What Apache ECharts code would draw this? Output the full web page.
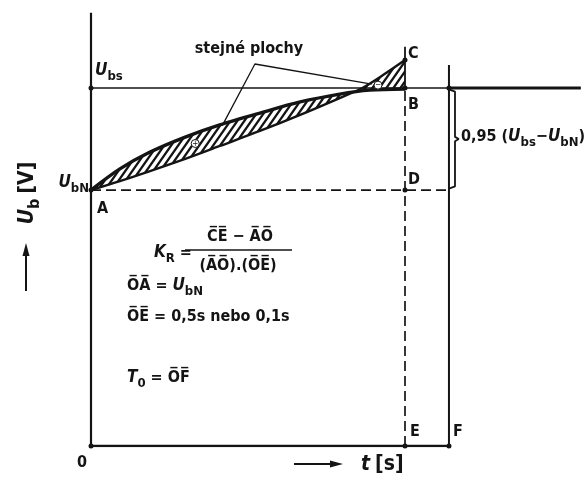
<!DOCTYPE html>
<html><head><meta charset="utf-8">
<script src="https://cdn.jsdelivr.net/npm/echarts@6/dist/echarts.min.js"></script>
<style>html,body{margin:0;background:#fff}#c{width:587px;height:479px}</style>
</head><body><div id="c"></div>
<script>
// Time axis in seconds, voltage relative to the steady value U_bs
const T_E = 0.5;        // OE
const T_F = 0.57;       // OF = T_0
const T_END = 0.78;     // end of the U_bs asymptote
const T_BRACKET = 0.5796;
const U_BS = 1.0;
const U_BN = 0.715;
const U_C = 1.078;
const U_TOP = 1.21;
const U_C_TICK = 1.115;
const U_F_TOP = 1.064;

// measured response U_b(t)
const responseT = [0, 0.046, 0.094, 0.150, 0.205, 0.269, 0.333, 0.396, 0.444, 0.5];
const responseU = [0.715, 0.774, 0.821, 0.863, 0.897, 0.930, 0.961, 0.983, 0.994, 0.997];
// equal-area curve from A to C
const chordT = [0, 0.046, 0.094, 0.150, 0.205, 0.269, 0.333, 0.396, 0.432, 0.465, 0.5];
const chordU = [0.715, 0.740, 0.768, 0.802, 0.838, 0.880, 0.925, 0.972, 1.0, 1.036, 1.078];

// leader lines of "stejné plochy"
const leaderFrom = [0.261, 1.067];
const leaderTo = [[0.209, 0.895], [0.447, 1.011]];
// area signs
const signT = [0.166, 0.457];
const signU = [0.845, 1.008];
const signText = ['+', '\u2212'];

// named points
const pointNames = ['0', 'A', 'B', 'C', 'D', 'E', 'F', '', ''];
const pointT = [0, 0, T_E, T_E, T_E, T_E, T_F, 0, T_F];
const pointU = [0, U_BN, U_BS, U_C, U_BN, 0, 0, U_BS, U_BS];

const INK = '#141414';
const FONT = '"DejaVu Sans Condensed","Liberation Sans Narrow","DejaVu Sans",sans-serif';
const OL = s => s.split('').map(ch => ch + '\u0305').join('');

const labelOffsets = [[-16.5, 17], [3.5, 19], [0.5, 17], [0.5, -6], [0.5, -10], [2.5, -14], [1.5, -14], [0, 0], [0, 0]];

const hatch = (() => {
  const c = document.createElement('canvas');
  c.width = 7; c.height = 10;
  const g = c.getContext('2d');
  g.strokeStyle = INK; g.lineWidth = 2.3; g.lineCap = 'square';
  g.beginPath();
  g.moveTo(0, 10); g.lineTo(7, 0);
  g.moveTo(-1, 1.4); g.lineTo(1, -1.4);
  g.moveTo(6, 11.4); g.lineTo(8, 8.6);
  g.stroke();
  return { image: c, repeat: 'repeat' };
})();

function seg(data, width, dashed) {
  return {
    type: 'line', data, symbol: 'none', silent: true, animation: false,
    lineStyle: { color: INK, width, type: dashed ? [10, 5] : 'solid', cap: 'butt' },
    z: 3
  };
}

const rich = {
  v: { fontFamily: FONT, fontStyle: 'italic', fontWeight: 'bold', fontSize: 17, color: INK },
  n: { fontFamily: FONT, fontWeight: 'bold', fontSize: 16, color: INK },
  s: { fontFamily: FONT, fontWeight: 'bold', fontSize: 13, color: INK, padding: [12, 0, 0, 0] },
  m: { fontFamily: FONT, fontWeight: 'bold', fontSize: 16, color: INK },
  p: { fontFamily: FONT, fontWeight: 'bold', fontSize: 16, color: INK },
  V: { fontFamily: FONT, fontStyle: 'italic', fontWeight: 'bold', fontSize: 21, color: INK },
  S: { fontFamily: FONT, fontWeight: 'bold', fontSize: 16, color: INK, padding: [13, 0, 0, 0] },
  N: { fontFamily: FONT, fontWeight: 'bold', fontSize: 21, color: INK }
};

function text(x, y, t, opts) {
  return Object.assign({
    type: 'text', x, y, silent: true,
    style: Object.assign({ text: t, rich, font: 'bold 16px ' + FONT, fill: INK, align: 'left', verticalAlign: 'middle' }, (opts && opts.style) || {})
  }, opts && opts.el || {});
}

const chart = echarts.init(document.getElementById('c'), null, { renderer: 'canvas' });

const series = [
  {
    type: 'custom', silent: true, animation: false, z: 2,
    renderItem: (params, api) => {
      const pts = responseT.map((t, i) => api.coord([t, responseU[i]]));
      for (let i = chordT.length - 1; i >= 0; i--) pts.push(api.coord([chordT[i], chordU[i]]));
      return { type: 'polygon', shape: { points: pts }, style: { fill: hatch, stroke: null } };
    },
    data: [[0, 0]]
  },
  Object.assign(seg(responseT.map((t, i) => [t, responseU[i]]), 3.4), { smooth: 0.3 }),
  Object.assign(seg(chordT.map((t, i) => [t, chordU[i]]), 2.4), { smooth: 0.3 }),
  // axes
  seg([[0, 0], [0, U_TOP]], 2.2),
  seg([[0, 0], [T_F, 0]], 2.6),
  // steady value
  seg([[0, U_BS], [T_F, U_BS]], 1.5),
  seg([[T_F, U_BS], [T_END, U_BS]], 3),
  // construction lines
  seg([[0, U_BN], [T_F, U_BN]], 1.7, true),
  seg([[T_E, 0], [T_E, U_BS]], 1.7, true),
  seg([[T_E, U_BS], [T_E, U_C_TICK]], 1.8),
  seg([[T_F, 0], [T_F, U_F_TOP]], 2),
  // bracket 0,95 (U_bs - U_bN)
  seg([[T_F, U_BS - 0.004], [T_BRACKET, U_BS - 0.01], [T_BRACKET, (U_BS + U_BN) / 2 + 0.006],
       [T_BRACKET + 0.006, (U_BS + U_BN) / 2], [T_BRACKET, (U_BS + U_BN) / 2 - 0.006],
       [T_BRACKET, U_BN + 0.01], [T_F, U_BN + 0.004]], 1.8),
  // leaders
  seg([leaderTo[0], leaderFrom, leaderTo[1]], 1.3),
  {
    type: 'scatter', silent: true, animation: false, z: 5,
    symbol: 'circle', symbolSize: 5,
    itemStyle: { color: INK, opacity: 1 },
    data: pointT.map((t, i) => ({
      value: [t, pointU[i]],
      label: {
        show: pointNames[i] !== '', formatter: '{p|' + pointNames[i] + '}', position: 'right', distance: 0,
        offset: labelOffsets[i], rich, color: INK, textBorderWidth: 0
      }
    }))
  },
  {
    type: 'scatter', silent: true, animation: false, z: 6,
    symbol: 'circle', symbolSize: 8,
    itemStyle: { color: '#fff', borderColor: INK, borderWidth: 1, opacity: 1 },
    data: signT.map((t, i) => ({
      value: [t, signU[i]],
      label: { show: true, formatter: signText[i], position: 'inside', color: INK, fontSize: 8, fontFamily: FONT, textBorderWidth: 0 }
    }))
  }
];

chart.setOption({
  backgroundColor: '#fff',
  animation: false,
  grid: { left: 91, right: 587 - 91 - T_END * 628, top: 446 - U_TOP * 358, bottom: 33, containLabel: false },
  xAxis: { type: 'value', min: 0, max: T_END, show: false },
  yAxis: { type: 'value', min: 0, max: U_TOP, show: false },
  series,
  graphic: [
    text(95, 71, '{v|U}{s|bs}'),
    text(89, 183, '{v|U}{s|bN}', { style: { align: 'right' } }),
    text(249, 49, 'stejné plochy', { style: { align: 'center' } }),
    text(461, 137, '{m|0,95 (}{v|U}{s|bs}{m|\u2212}{v|U}{s|bN}{m|)}'),
    // formula
    text(154, 253, '{v|K}{s|R}{n| =}'),
    text(240, 237, OL('CE') + ' \u2212 ' + OL('AO'), { style: { align: 'center' } }),
    { type: 'line', silent: true, shape: { x1: 185, y1: 250, x2: 292, y2: 250 }, style: { stroke: INK, lineWidth: 1.6 } },
    text(238, 266, '(' + OL('AO') + ').(' + OL('OE') + ')', { style: { align: 'center' } }),
    text(127, 286, '{n|' + OL('OA') + ' = }{v|U}{s|bN}'),
    text(127, 317, OL('OE') + ' = 0,5s nebo 0,1s'),
    text(127, 378, '{v|T}{s|0}{n| = ' + OL('OF') + '}'),
    // axis names
    { type: 'line', silent: true, shape: { x1: 26, y1: 291, x2: 26, y2: 252 }, style: { stroke: INK, lineWidth: 2 } },
    { type: 'polygon', silent: true, shape: { points: [[26, 243], [22.5, 256], [29.5, 256]] }, style: { fill: INK } },
    text(28, 193, '{V|U}{S|b} {N|[V]}', { style: { align: 'center' }, el: { rotation: Math.PI / 2 } }),
    { type: 'line', silent: true, shape: { x1: 294, y1: 464, x2: 333, y2: 464 }, style: { stroke: INK, lineWidth: 2 } },
    { type: 'polygon', silent: true, shape: { points: [[343, 464], [330, 460.5], [330, 467.5]] }, style: { fill: INK } },
    text(361, 465, '{V|t} {N|[s]}')
  ]
});
</script>
</body></html>
